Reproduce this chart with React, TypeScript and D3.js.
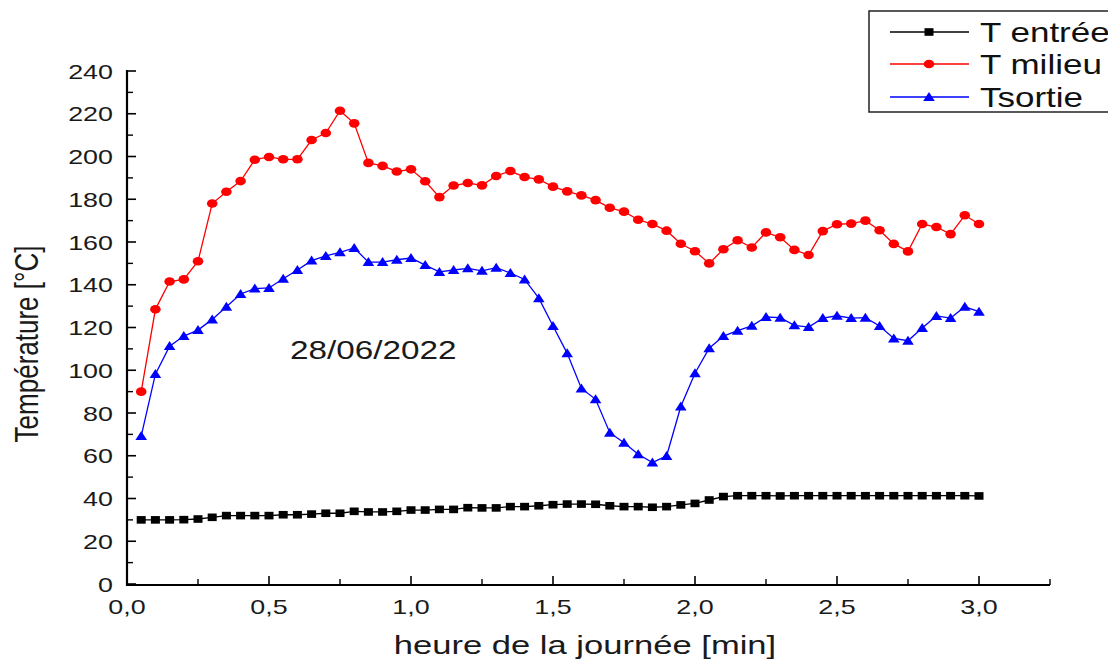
import React from "react";
import * as d3 from "d3";

const hours = [
  0.05, 0.1, 0.15, 0.2, 0.25, 0.3, 0.35, 0.4, 0.45, 0.5,
  0.55, 0.6, 0.65, 0.7, 0.75, 0.8, 0.85, 0.9, 0.95, 1.0,
  1.05, 1.1, 1.15, 1.2, 1.25, 1.3, 1.35, 1.4, 1.45, 1.5,
  1.55, 1.6, 1.65, 1.7, 1.75, 1.8, 1.85, 1.9, 1.95, 2.0,
  2.05, 2.1, 2.15, 2.2, 2.25, 2.3, 2.35, 2.4, 2.45, 2.5,
  2.55, 2.6, 2.65, 2.7, 2.75, 2.8, 2.85, 2.9, 2.95, 3.0,
];

const tEntree = [
  30, 30, 30, 30.1, 30.4, 31.2, 32, 32, 32, 32,
  32.4, 32.4, 32.7, 33.1, 33.1, 34, 33.7, 33.7, 34, 34.6,
  34.6, 34.9, 34.9, 35.7, 35.6, 35.6, 36.2, 36.2, 36.6, 37.1,
  37.4, 37.4, 37.3, 36.6, 36.2, 36.2, 35.9, 36.2, 37, 37.7,
  39.3, 40.9, 41.3, 41.3, 41.3, 41.2, 41.3, 41.3, 41.3, 41.3,
  41.3, 41.3, 41.3, 41.3, 41.3, 41.3, 41.3, 41.3, 41.3, 41.2,
];

const tMilieu = [
  90, 128.5, 141.5, 142.5, 151, 178, 183.5, 188.5, 198.5, 199.8,
  198.7, 198.7, 207.7, 211, 221.4, 215.5, 197, 195.6, 193, 194,
  188.4, 181, 186.4, 187.6, 186.5, 190.9, 193.2, 190.4, 189.3, 185.9,
  183.7, 181.8, 179.6, 176, 174.2, 170.4, 168.4, 165.3, 159.2, 155.7,
  150, 156.6, 160.8, 157.4, 164.5, 162.2, 156.3, 153.9, 165.1, 168.3,
  168.6, 170, 165.5, 159.1, 155.6, 168.4, 167, 163.7, 172.5, 168.4,
];

const tSortie = [
  69.2, 98.2, 111.3, 116, 118.8, 123.8, 129.7, 135.7, 138.2, 138.5,
  142.8, 146.9, 151.3, 153.5, 155.2, 157.2, 150.6, 150.6, 151.7, 152.5,
  149.2, 146, 146.9, 147.7, 146.5, 148, 145.5, 142.5, 133.7, 120.7,
  107.9, 91.5, 86.4, 70.8, 66.1, 60.7, 56.8, 59.9, 83, 98.6,
  110.3, 116, 118.5, 120.8, 124.9, 124.6, 121, 120.2, 124.4, 125.5,
  124.4, 124.6, 120.7, 114.9, 113.8, 119.8, 125.4, 124.4, 129.7, 127.4,
];

const xTickValues = [0, 0.5, 1.0, 1.5, 2.0, 2.5, 3.0];
const xMinorTicks = [0.25, 0.75, 1.25, 1.75, 2.25, 2.75, 3.25];
const yTickValues = [0, 20, 40, 60, 80, 100, 120, 140, 160, 180, 200, 220, 240];
const yMinorTicks = [10, 30, 50, 70, 90, 110, 130, 150, 170, 190, 210, 230];

const seriesNames = ["T entrée", "T milieu", "Tsortie"];
const seriesColors = ["#000000", "#ff0000", "#0000ff"];
const xTitle = "heure de la journée [min]";
const yTitle = "Température [°C]";
const annotation = "28/06/2022";

const FONT = "'Liberation Sans', Arial, sans-serif";
const SX = 1.28;

function Marker({ kind, x, y, color }: { kind: number; x: number; y: number; color: string }) {
  if (kind === 0) return <rect x={x - 4.5} y={y - 3.8} width={9} height={7.6} fill={color} />;
  if (kind === 1) return <ellipse cx={x} cy={y} rx={5.3} ry={4.3} fill={color} />;
  return <path d={`M${x - 5.8},${y + 4} L${x + 5.8},${y + 4} L${x},${y - 5} Z`} fill={color} />;
}

export default function App() {
  const W = 1108, H = 662;
  const x = d3.scaleLinear().domain([0, 3.25]).range([127, 1050]);
  const y = d3.scaleLinear().domain([0, 240]).range([584, 71]);
  const series = [tEntree, tMilieu, tSortie];
  const line = (vals: number[]) =>
    d3.line<number>().x((_, i) => x(hours[i])).y((v) => y(v))(vals) || "";

  const axisY = 585;
  const axisX = 127;

  const legendRows = [32, 64, 97];

  return (
    <svg width={W} height={H} style={{ position: "absolute", left: 0, top: 0, background: "#fff" }}>
      <rect x={0} y={0} width={W} height={H} fill="#fff" />
      {/* axes */}
      <line x1={axisX} y1={70} x2={axisX} y2={axisY + 1} stroke="#000" strokeWidth={2.2} />
      <line x1={axisX - 1} y1={axisY} x2={x(3.25)} y2={axisY} stroke="#000" strokeWidth={2.2} />
      {yTickValues.map((v) => (
        <g key={"yt" + v}>
          <line x1={axisX} x2={axisX + 9} y1={y(v)} y2={y(v)} stroke="#000" strokeWidth={1.6} />
          <text
            transform={`translate(113,${y(v) + 7.5}) scale(${SX},1)`}
            textAnchor="end"
            fontFamily={FONT}
            fontSize={21}
            fill="#1a1a1a"
          >
            {v}
          </text>
        </g>
      ))}
      {yMinorTicks.map((v) => (
        <line key={"ym" + v} x1={axisX} x2={axisX + 6} y1={y(v)} y2={y(v)} stroke="#000" strokeWidth={1.4} />
      ))}
      {xTickValues.map((v) => (
        <g key={"xt" + v}>
          <line x1={x(v)} x2={x(v)} y1={axisY} y2={axisY - 9} stroke="#000" strokeWidth={1.6} />
          <text
            transform={`translate(${x(v)},614) scale(${SX},1)`}
            textAnchor="middle"
            fontFamily={FONT}
            fontSize={21}
            fill="#1a1a1a"
          >
            {v.toFixed(1).replace(".", ",")}
          </text>
        </g>
      ))}
      {xMinorTicks.map((v) => (
        <line key={"xm" + v} x1={x(v)} x2={x(v)} y1={axisY} y2={axisY - 6} stroke="#000" strokeWidth={1.4} />
      ))}
      {/* titles */}
      <text
        transform={`translate(585,654) scale(1.33,1)`}
        textAnchor="middle"
        fontFamily={FONT}
        fontSize={26}
        fill="#1a1a1a"
      >
        {xTitle}
      </text>
      <text
        transform={`translate(38,344) scale(${SX},1) rotate(-90)`}
        textAnchor="middle"
        fontFamily={FONT}
        fontSize={26}
        fill="#1a1a1a"
      >
        {yTitle}
      </text>
      <text
        transform={`translate(290,359) scale(${SX},1)`}
        fontFamily={FONT}
        fontSize={26}
        fill="#1a1a1a"
      >
        {annotation}
      </text>
      {/* series */}
      {series.map((vals, si) => (
        <g key={"s" + si}>
          <path d={line(vals)} fill="none" stroke={seriesColors[si]} strokeWidth={1.3} />
          {vals.map((v, i) => (
            <Marker key={i} kind={si} x={x(hours[i])} y={y(v)} color={seriesColors[si]} />
          ))}
        </g>
      ))}
      {/* legend */}
      <rect x={869} y={11} width={260} height={101} fill="#fff" stroke="#222" strokeWidth={1.5} />
      {seriesNames.map((name, i) => (
        <g key={"lg" + i}>
          <line x1={890} x2={969} y1={legendRows[i]} y2={legendRows[i]} stroke={seriesColors[i]} strokeWidth={1.3} />
          <Marker kind={i} x={929} y={legendRows[i]} color={seriesColors[i]} />
          <text
            transform={`translate(980,${legendRows[i] + 10}) scale(1.25,1)`}
            fontFamily={FONT}
            fontSize={28}
            fill="#111"
          >
            {name}
          </text>
        </g>
      ))}
    </svg>
  );
}
